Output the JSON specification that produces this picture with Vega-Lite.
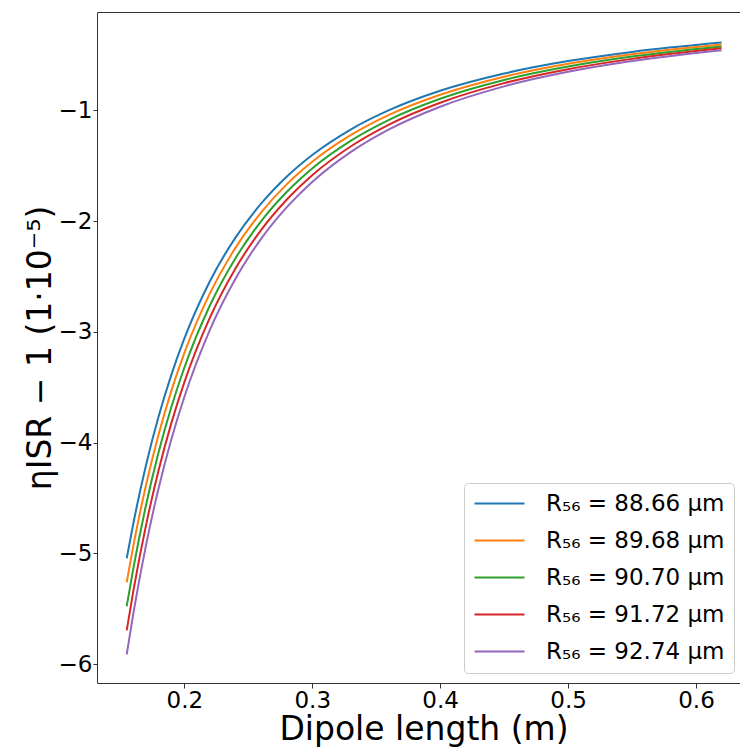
{
  "$schema": "https://vega.github.io/schema/vega-lite/v6.json",
  "width": 643,
  "height": 671,
  "autosize": {"type": "none"},
  "padding": {"left": 97, "top": 12, "right": 0, "bottom": 66},
  "background": "white",
  "config": {
    "font": "DejaVu Sans",
    "view": {"stroke": null},
    "axis": {
      "grid": false,
      "domainColor": "#333333",
      "domainWidth": 1,
      "tickColor": "#333333",
      "labelColor": "black",
      "titleColor": "black",
      "labelFont": "DejaVu Sans",
      "titleFont": "DejaVu Sans",
      "labelFontSize": 23,
      "titleFontSize": 33,
      "titleFontWeight": "normal"
    },
    "legend": {"labelFont": "DejaVu Sans"}
  },
  "data": {
    "values": [
      {"s": "R₅₆ = 88.66 μm", "L": 0.155, "v": -5.043},
      {"s": "R₅₆ = 88.66 μm", "L": 0.16, "v": -4.738},
      {"s": "R₅₆ = 88.66 μm", "L": 0.17, "v": -4.206},
      {"s": "R₅₆ = 88.66 μm", "L": 0.18, "v": -3.760},
      {"s": "R₅₆ = 88.66 μm", "L": 0.19, "v": -3.383},
      {"s": "R₅₆ = 88.66 μm", "L": 0.2, "v": -3.061},
      {"s": "R₅₆ = 88.66 μm", "L": 0.22, "v": -2.543},
      {"s": "R₅₆ = 88.66 μm", "L": 0.24, "v": -2.149},
      {"s": "R₅₆ = 88.66 μm", "L": 0.26, "v": -1.843},
      {"s": "R₅₆ = 88.66 μm", "L": 0.28, "v": -1.600},
      {"s": "R₅₆ = 88.66 μm", "L": 0.3, "v": -1.404},
      {"s": "R₅₆ = 88.66 μm", "L": 0.33, "v": -1.174},
      {"s": "R₅₆ = 88.66 μm", "L": 0.36, "v": -0.999},
      {"s": "R₅₆ = 88.66 μm", "L": 0.4, "v": -0.824},
      {"s": "R₅₆ = 88.66 μm", "L": 0.45, "v": -0.668},
      {"s": "R₅₆ = 88.66 μm", "L": 0.5, "v": -0.556},
      {"s": "R₅₆ = 88.66 μm", "L": 0.55, "v": -0.473},
      {"s": "R₅₆ = 88.66 μm", "L": 0.62, "v": -0.389},

      {"s": "R₅₆ = 89.68 μm", "L": 0.155, "v": -5.260},
      {"s": "R₅₆ = 89.68 μm", "L": 0.16, "v": -4.941},
      {"s": "R₅₆ = 89.68 μm", "L": 0.17, "v": -4.387},
      {"s": "R₅₆ = 89.68 μm", "L": 0.18, "v": -3.922},
      {"s": "R₅₆ = 89.68 μm", "L": 0.19, "v": -3.528},
      {"s": "R₅₆ = 89.68 μm", "L": 0.2, "v": -3.192},
      {"s": "R₅₆ = 89.68 μm", "L": 0.22, "v": -2.653},
      {"s": "R₅₆ = 89.68 μm", "L": 0.24, "v": -2.242},
      {"s": "R₅₆ = 89.68 μm", "L": 0.26, "v": -1.923},
      {"s": "R₅₆ = 89.68 μm", "L": 0.28, "v": -1.669},
      {"s": "R₅₆ = 89.68 μm", "L": 0.3, "v": -1.465},
      {"s": "R₅₆ = 89.68 μm", "L": 0.33, "v": -1.225},
      {"s": "R₅₆ = 89.68 μm", "L": 0.36, "v": -1.042},
      {"s": "R₅₆ = 89.68 μm", "L": 0.4, "v": -0.860},
      {"s": "R₅₆ = 89.68 μm", "L": 0.45, "v": -0.697},
      {"s": "R₅₆ = 89.68 μm", "L": 0.5, "v": -0.580},
      {"s": "R₅₆ = 89.68 μm", "L": 0.55, "v": -0.494},
      {"s": "R₅₆ = 89.68 μm", "L": 0.62, "v": -0.406},

      {"s": "R₅₆ = 90.70 μm", "L": 0.155, "v": -5.476},
      {"s": "R₅₆ = 90.70 μm", "L": 0.16, "v": -5.145},
      {"s": "R₅₆ = 90.70 μm", "L": 0.17, "v": -4.567},
      {"s": "R₅₆ = 90.70 μm", "L": 0.18, "v": -4.083},
      {"s": "R₅₆ = 90.70 μm", "L": 0.19, "v": -3.674},
      {"s": "R₅₆ = 90.70 μm", "L": 0.2, "v": -3.324},
      {"s": "R₅₆ = 90.70 μm", "L": 0.22, "v": -2.762},
      {"s": "R₅₆ = 90.70 μm", "L": 0.24, "v": -2.335},
      {"s": "R₅₆ = 90.70 μm", "L": 0.26, "v": -2.002},
      {"s": "R₅₆ = 90.70 μm", "L": 0.28, "v": -1.738},
      {"s": "R₅₆ = 90.70 μm", "L": 0.3, "v": -1.525},
      {"s": "R₅₆ = 90.70 μm", "L": 0.33, "v": -1.276},
      {"s": "R₅₆ = 90.70 μm", "L": 0.36, "v": -1.086},
      {"s": "R₅₆ = 90.70 μm", "L": 0.4, "v": -0.896},
      {"s": "R₅₆ = 90.70 μm", "L": 0.45, "v": -0.726},
      {"s": "R₅₆ = 90.70 μm", "L": 0.5, "v": -0.605},
      {"s": "R₅₆ = 90.70 μm", "L": 0.55, "v": -0.515},
      {"s": "R₅₆ = 90.70 μm", "L": 0.62, "v": -0.424},

      {"s": "R₅₆ = 91.72 μm", "L": 0.155, "v": -5.694},
      {"s": "R₅₆ = 91.72 μm", "L": 0.16, "v": -5.349},
      {"s": "R₅₆ = 91.72 μm", "L": 0.17, "v": -4.749},
      {"s": "R₅₆ = 91.72 μm", "L": 0.18, "v": -4.245},
      {"s": "R₅₆ = 91.72 μm", "L": 0.19, "v": -3.819},
      {"s": "R₅₆ = 91.72 μm", "L": 0.2, "v": -3.456},
      {"s": "R₅₆ = 91.72 μm", "L": 0.22, "v": -2.872},
      {"s": "R₅₆ = 91.72 μm", "L": 0.24, "v": -2.428},
      {"s": "R₅₆ = 91.72 μm", "L": 0.26, "v": -2.082},
      {"s": "R₅₆ = 91.72 μm", "L": 0.28, "v": -1.808},
      {"s": "R₅₆ = 91.72 μm", "L": 0.3, "v": -1.586},
      {"s": "R₅₆ = 91.72 μm", "L": 0.33, "v": -1.327},
      {"s": "R₅₆ = 91.72 μm", "L": 0.36, "v": -1.129},
      {"s": "R₅₆ = 91.72 μm", "L": 0.4, "v": -0.932},
      {"s": "R₅₆ = 91.72 μm", "L": 0.45, "v": -0.755},
      {"s": "R₅₆ = 91.72 μm", "L": 0.5, "v": -0.629},
      {"s": "R₅₆ = 91.72 μm", "L": 0.55, "v": -0.536},
      {"s": "R₅₆ = 91.72 μm", "L": 0.62, "v": -0.441},

      {"s": "R₅₆ = 92.74 μm", "L": 0.155, "v": -5.910},
      {"s": "R₅₆ = 92.74 μm", "L": 0.16, "v": -5.552},
      {"s": "R₅₆ = 92.74 μm", "L": 0.17, "v": -4.929},
      {"s": "R₅₆ = 92.74 μm", "L": 0.18, "v": -4.407},
      {"s": "R₅₆ = 92.74 μm", "L": 0.19, "v": -3.965},
      {"s": "R₅₆ = 92.74 μm", "L": 0.2, "v": -3.588},
      {"s": "R₅₆ = 92.74 μm", "L": 0.22, "v": -2.981},
      {"s": "R₅₆ = 92.74 μm", "L": 0.24, "v": -2.520},
      {"s": "R₅₆ = 92.74 μm", "L": 0.26, "v": -2.161},
      {"s": "R₅₆ = 92.74 μm", "L": 0.28, "v": -1.877},
      {"s": "R₅₆ = 92.74 μm", "L": 0.3, "v": -1.647},
      {"s": "R₅₆ = 92.74 μm", "L": 0.33, "v": -1.378},
      {"s": "R₅₆ = 92.74 μm", "L": 0.36, "v": -1.173},
      {"s": "R₅₆ = 92.74 μm", "L": 0.4, "v": -0.968},
      {"s": "R₅₆ = 92.74 μm", "L": 0.45, "v": -0.784},
      {"s": "R₅₆ = 92.74 μm", "L": 0.5, "v": -0.653},
      {"s": "R₅₆ = 92.74 μm", "L": 0.55, "v": -0.556},
      {"s": "R₅₆ = 92.74 μm", "L": 0.62, "v": -0.458}
    ]
  },
  "layer": [
    {
      "mark": {"type": "line", "strokeWidth": 2, "interpolate": "monotone"},
      "encoding": {
        "x": {
          "field": "L",
          "type": "quantitative",
          "scale": {"domain": [0.13175, 0.6344], "nice": false, "zero": false},
          "axis": {
            "values": [0.2, 0.3, 0.4, 0.5, 0.6],
            "format": ".1f",
            "tickSize": 5,
            "labelPadding": 1,
            "title": "Dipole length (m)",
            "titleX": 326.5,
            "titleY": 56,
            "titleBaseline": "alphabetic",
            "titleAlign": "center"
          }
        },
        "y": {
          "field": "v",
          "type": "quantitative",
          "scale": {"domain": [-6.169, -0.113], "nice": false, "zero": false},
          "axis": {
            "values": [-6, -5, -4, -3, -2, -1],
            "format": "d",
            "tickSize": 4,
            "labelPadding": 1,
            "title": "ηISR − 1 (1·10⁻⁵)",
            "titleX": -47,
            "titleY": 335.5,
            "titleAngle": -90,
            "titleBaseline": "alphabetic",
            "titleAlign": "center"
          }
        },
        "color": {
          "field": "s",
          "type": "nominal",
          "scale": {
            "domain": ["R₅₆ = 88.66 μm", "R₅₆ = 89.68 μm", "R₅₆ = 90.70 μm", "R₅₆ = 91.72 μm", "R₅₆ = 92.74 μm"],
            "range": ["#1f77b4", "#ff7f0e", "#2ca02c", "#d62728", "#9467bd"]
          },
          "legend": {
            "title": null,
            "orient": "none",
            "legendX": 367,
            "legendY": 471,
            "symbolType": "M-1,0H4",
            "symbolSize": 400,
            "symbolStrokeWidth": 2,
            "labelFontSize": 23,
            "labelColor": "black",
            "labelLimit": 400,
            "labelOffset": 50,
            "rowPadding": 13,
            "padding": 9,
            "fillColor": "white",
            "strokeColor": "#cccccc",
            "cornerRadius": 4
          }
        }
      }
    },
    {
      "mark": {"type": "line", "opacity": 0},
      "encoding": {
        "x": {
          "field": "L",
          "type": "quantitative",
          "axis": {"orient": "top", "labels": false, "ticks": false, "title": null}
        },
        "y": {"field": "v", "type": "quantitative"}
      }
    }
  ],
  "resolve": {"axis": {"x": "independent"}}
}
